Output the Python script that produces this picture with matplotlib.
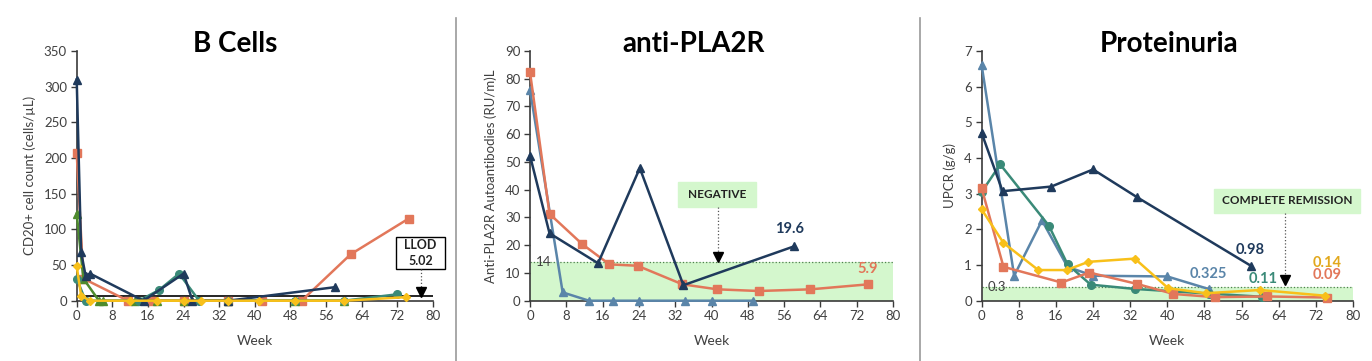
import matplotlib
matplotlib.use("Agg")
import matplotlib.pyplot as plt
from matplotlib.patches import Rectangle
from matplotlib.lines import Line2D

plt.rcParams['font.family'] = ['Lato', 'DejaVu Sans']

# colours
navy = "#1F3A5C"
steel = "#5A85A9"
orange = "#E2775A"
green = "#4E8B2E"
teal = "#3A8A78"
yellow = "#F8C01A"
band = "#D4F7CD"
txt = "#404040"

weeks_ticks = list(range(0, 81, 8))

# ---- B cells (CD20+ cells/uL)
b_navy_w = [0, 1, 2, 3, 15, 24, 26, 34, 58]
b_navy_v = [310, 68, 35, 38, 0, 38, 0, 0, 19]
b_orange_w = [0, 1.5, 11.5, 17, 24, 34, 41.5, 50.5, 61.5, 74.5]
b_orange_v = [207, 31, 0, 0, 0, 0, 0, 0, 65, 115]
b_green_w = [0, 1.5, 5, 6, 13, 18, 24, 34, 49, 60]
b_green_v = [122, 31, 0, 0, 0, 0, 0, 0, 0, 0]
b_teal_w = [0, 2, 14, 18.5, 23, 27.5, 34, 49, 60, 72]
b_teal_v = [31, 0, 0, 15, 38, 0, 0, 0, 0, 9]
b_yellow_w = [0, 1, 3, 12, 18, 24, 28, 34, 41, 49, 60, 74]
b_yellow_v = [48, 7, 0, 0, 0, 0, 0, 0, 0, 0, 0, 5]
llod = 7

# ---- anti-PLA2R (RU/mL)
p_orange_w = [0, 4.3, 11.5, 17.5, 23.7, 33.6, 41.3, 50.4, 61.8, 74.5]
p_orange_v = [82.4, 31.3, 20.4, 13.1, 12.6, 5.9, 4.1, 3.5, 4.1, 5.9]
p_navy_w = [0, 4.3, 15, 24.2, 33.8, 58.2]
p_navy_v = [52.3, 24.3, 13.5, 47.8, 5.6, 19.6]
p_steel_w = [0, 7.2, 13, 18.2, 24, 34.1, 40.2, 49.2]
p_steel_v = [76, 3, 0, 0, 0, 0, 0, 0]
pla_cut = 14

# ---- proteinuria UPCR (g/g)
u_navy_w = [0, 4.5, 15, 24, 33.5, 58]
u_navy_v = [4.7, 3.07, 3.2, 3.68, 2.9, 0.98]
u_steel_w = [0, 7, 13, 18.5, 24, 40, 49]
u_steel_v = [6.6, 0.7, 2.25, 0.95, 0.7, 0.68, 0.325]
u_teal_w = [0, 4, 14.5, 18.5, 23.5, 33, 49, 60.5]
u_teal_v = [3.05, 3.82, 2.1, 1.02, 0.45, 0.33, 0.2, 0.11]
u_orange_w = [0, 4.7, 17.2, 23.2, 33.5, 41.3, 50.3, 61.4, 74.4]
u_orange_v = [3.15, 0.95, 0.51, 0.79, 0.47, 0.19, 0.1, 0.12, 0.09]
u_yellow_w = [0, 4.7, 12.2, 18.3, 23, 33, 40.2, 48.3, 60, 74]
u_yellow_v = [2.56, 1.62, 0.86, 0.86, 1.09, 1.18, 0.35, 0.21, 0.3, 0.14]
upcr_cut = 0.38

fig = plt.figure(figsize=(13.72, 3.61), dpi=100)


def style_axis(ax, ymax, ystep, ylabel, title, title_x):
    ax.set_xlim(0, 80)
    ax.set_ylim(0, ymax)
    ax.set_xticks(weeks_ticks)
    ax.set_yticks(range(0, ymax + 1, ystep))
    for s in ["top", "right"]:
        ax.spines[s].set_visible(False)
    for s in ["left", "bottom"]:
        ax.spines[s].set_color("#3a3a3a")
        ax.spines[s].set_linewidth(1.2)
    ax.tick_params(direction="out", length=4, width=1, color="#3a3a3a",
                   labelsize=9.5, labelcolor=txt, pad=3)
    ax.set_xlabel("Week", fontsize=10, color=txt, labelpad=9)
    ax.set_ylabel(ylabel, fontsize=9.5, color=txt, labelpad=6)
    fig.text(title_x / 1372, 1 - 52 / 361, title, fontsize=20,
             fontweight="bold", ha="center", va="baseline")


def series(ax, w, v, color, marker, ms=5.5):
    ax.plot(w, v, color=color, marker=marker, markersize=ms, linewidth=1.8,
            clip_on=False, zorder=3)


def note_box(ax, xc, yc, w, h, text, boxcolor, edge=None, size=8.5):
    ax.add_patch(Rectangle((xc - w / 2, yc - h / 2), w, h, facecolor=boxcolor,
                           edgecolor=edge if edge else boxcolor, linewidth=1,
                           clip_on=False, zorder=4))
    ax.text(xc, yc, text, ha="center", va="center", fontsize=size,
            fontweight="bold", color="#222222", zorder=5, clip_on=False,
            linespacing=1.4)


def arrow(ax, x, y0, y1):
    ax.add_line(Line2D([x, x], [y0, y1], color="#555555", linestyle=":",
                       linewidth=0.9, clip_on=False, zorder=4))
    ax.plot([x], [y1], marker="v", color="black", markersize=7,
            clip_on=False, zorder=5)


def value_label(ax, x, y, s, color):
    ax.text(x, y, s, color=color, fontsize=10.5, fontweight="bold",
            ha="center", va="center")


# Panel 1: B Cells
ax1 = fig.add_axes([0.0559, 0.167, 0.2597, 0.6917])
style_axis(ax1, 350, 50, "CD20+ cell count (cells/µL)", "B Cells", 235)
ax1.axhline(llod, color="black", linewidth=1.2, zorder=2)
series(ax1, b_orange_w, b_orange_v, orange, "s")
series(ax1, b_green_w, b_green_v, green, "^")
series(ax1, b_teal_w, b_teal_v, teal, "o")
series(ax1, b_navy_w, b_navy_v, navy, "^")
series(ax1, b_yellow_w, b_yellow_v, yellow, "D", ms=4.5)
note_box(ax1, 77.2, 67, 10.8, 46, "LLOD\n5.02", "white", edge="black", size=9)
arrow(ax1, 77.4, 44, llod + 5)

# Panel 2: anti-PLA2R
ax2 = fig.add_axes([0.3863, 0.167, 0.2646, 0.6917])
style_axis(ax2, 90, 10, "Anti-PLA2R Autoantibodies (RU/m)L", "anti-PLA2R", 694)
ax2.axhspan(0, pla_cut, color=band, zorder=0, linewidth=0)
ax2.axhline(pla_cut, color="#4F7F4F", linestyle=":", linewidth=0.9, zorder=1)
ax2.text(1.2, pla_cut, "14", fontsize=9.5, color=txt, va="center", ha="left")
series(ax2, p_steel_w, p_steel_v, steel, "^")
series(ax2, p_orange_w, p_orange_v, orange, "s")
series(ax2, p_navy_w, p_navy_v, navy, "^")
note_box(ax2, 41.2, 38.2, 17.2, 8.9, "NEGATIVE", band)
arrow(ax2, 41.4, 33.7, pla_cut + 1.6)
value_label(ax2, 57.2, 25.8, "19.6", navy)
value_label(ax2, 74.5, 11.3, "5.9", orange)

# Panel 3: Proteinuria
ax3 = fig.add_axes([0.7155, 0.167, 0.2706, 0.6917])
style_axis(ax3, 7, 1, "UPCR (g/g)", "Proteinuria", 1169)
ax3.axhspan(0, upcr_cut, color=band, zorder=0, linewidth=0)
ax3.axhline(upcr_cut, color="#4F7F4F", linestyle=":", linewidth=0.9, zorder=1)
ax3.text(1.2, upcr_cut, "0.3", fontsize=9.5, color=txt, va="center", ha="left")
series(ax3, u_steel_w, u_steel_v, steel, "^")
series(ax3, u_teal_w, u_teal_v, teal, "o")
series(ax3, u_orange_w, u_orange_v, orange, "s")
series(ax3, u_yellow_w, u_yellow_v, yellow, "D", ms=4.5)
series(ax3, u_navy_w, u_navy_v, navy, "^")
note_box(ax3, 65.8, 2.8, 31.4, 0.68, "COMPLETE REMISSION", band)
arrow(ax3, 65.4, 2.45, 0.58)
value_label(ax3, 57.8, 1.43, "0.98", navy)
value_label(ax3, 48.8, 0.76, "0.325", steel)
value_label(ax3, 60.7, 0.62, "0.11", teal)
value_label(ax3, 74.5, 1.06, "0.14", "#E2A81C")
value_label(ax3, 74.5, 0.72, "0.09", orange)

# separators between panels
for xs in [456 / 1372, 920 / 1372]:
    fig.add_artist(Line2D([xs, xs], [0, 1 - 18 / 361], color="#9a9a9a",
                          linewidth=1.2, transform=fig.transFigure))

fig.savefig("out.png", dpi=100)
